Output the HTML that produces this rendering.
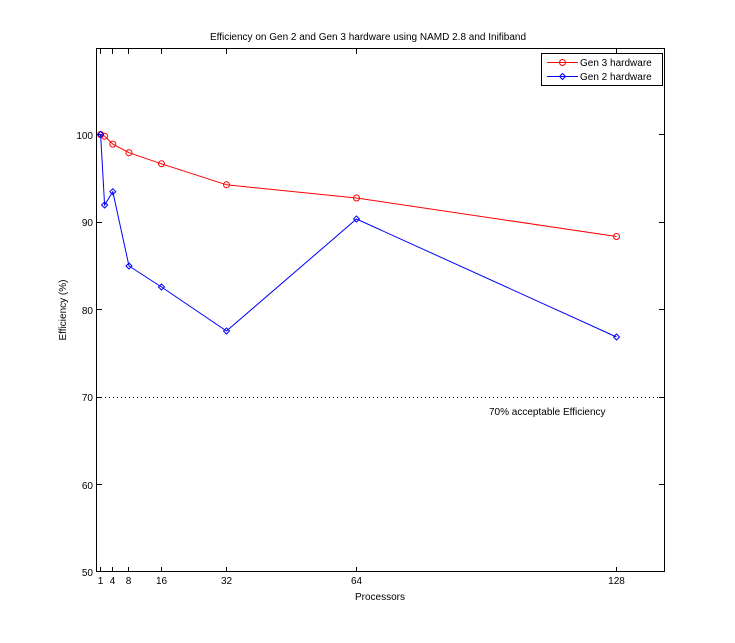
<!DOCTYPE html>
<html><head><style>body{margin:0;background:#fff}svg{display:block}text{font-family:"Liberation Sans",Arial,sans-serif;font-size:10px;fill:#000}</style></head><body>
<svg width="735" height="643" xmlns="http://www.w3.org/2000/svg">
<rect width="735" height="643" fill="#fff"/>
<g stroke="#000" stroke-width="1" fill="none">
<rect x="96.5" y="48.5" width="568" height="523"/>
<!-- x ticks -->
<path d="M100.5 572v-5M112.5 572v-5M128.5 572v-5M161.5 572v-5M226.5 572v-5M356.5 572v-5M616.5 572v-5
M100.5 49v5M112.5 49v5M128.5 49v5M161.5 49v5M226.5 49v5M356.5 49v5M616.5 49v5
M97 571.5h5M97 484.5h5M97 397.5h5M97 309.5h5M97 222.5h5M97 134.5h5
M664 571.5h-5M664 484.5h-5M664 397.5h-5M664 309.5h-5M664 222.5h-5M664 134.5h-5"/>
</g>
<line x1="97" y1="397.5" x2="664" y2="397.5" stroke="#000" stroke-dasharray="1,3"/>
<g text-anchor="end">
<text x="93" y="576">50</text><text x="93" y="489">60</text><text x="93" y="401">70</text><text x="93" y="314">80</text><text x="93" y="226">90</text><text x="93" y="139">100</text>
</g>
<g text-anchor="middle">
<text x="100.5" y="584">1</text><text x="112.5" y="584">4</text><text x="128.5" y="584">8</text><text x="161.5" y="584">16</text><text x="226.5" y="584">32</text><text x="356.5" y="584">64</text><text x="616.5" y="584">128</text>
<text x="380" y="600">Processors</text>
<text x="368" y="40">Efficiency on Gen 2 and Gen 3 hardware using NAMD 2.8 and Inifiband</text>
<text transform="translate(66,310) rotate(-90)">Efficiency (%)</text>
</g>
<text x="489" y="415">70% acceptable Efficiency</text>
<polyline fill="none" stroke="#f00" points="100.6,134.5 104.6,136.2 112.8,144.1 129,152.7 161.5,163.8 226.5,184.8 356.5,198 616.5,236.5"/>
<g fill="none" stroke="#f00">
<circle cx="100.6" cy="134.5" r="3"/><circle cx="104.6" cy="136.2" r="3"/><circle cx="112.8" cy="144.1" r="3"/><circle cx="129" cy="152.7" r="3"/><circle cx="161.5" cy="163.8" r="3"/><circle cx="226.5" cy="184.8" r="3"/><circle cx="356.5" cy="198" r="3"/><circle cx="616.5" cy="236.5" r="3"/>
</g>
<polyline fill="none" stroke="#00f" points="100.6,134.5 104.6,205 112.8,191.7 129,266 161.5,287 226.5,331 356.5,219 616.5,337"/>
<g fill="none" stroke="#00f">
<path d="M100.6 131.5l3 3-3 3-3-3zM104.6 202l3 3-3 3-3-3zM112.8 188.7l3 3-3 3-3-3zM129 263l3 3-3 3-3-3zM161.5 284l3 3-3 3-3-3zM226.5 328l3 3-3 3-3-3zM356.5 216l3 3-3 3-3-3zM616.5 334l3 3-3 3-3-3z"/>
</g>
<rect x="541.5" y="53.5" width="121" height="32" fill="#fff" stroke="#000"/>
<line x1="547" y1="62.5" x2="578" y2="62.5" stroke="#f00"/><circle cx="562.5" cy="62.5" r="3" fill="none" stroke="#f00"/>
<line x1="547" y1="76.5" x2="578" y2="76.5" stroke="#00f"/><path d="M562.5 73.5l3 3-3 3-3-3z" fill="none" stroke="#00f"/>
<text x="580" y="66">Gen 3 hardware</text><text x="580" y="80">Gen 2 hardware</text>
</svg>
</body></html>
